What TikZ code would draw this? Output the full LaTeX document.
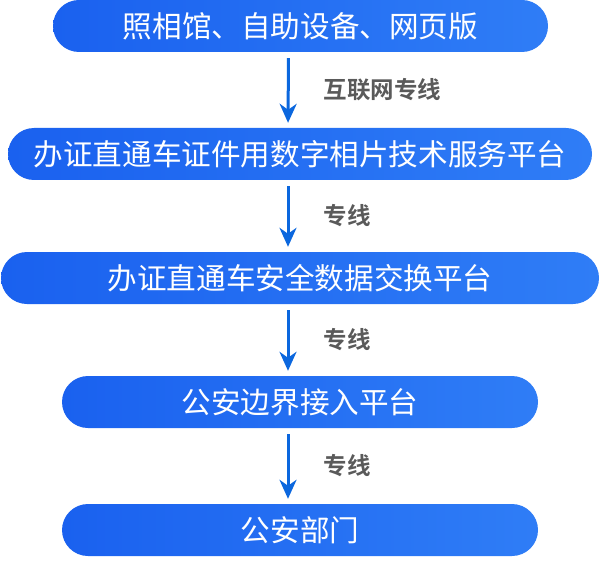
\documentclass[tikz,border=0pt]{standalone}
\usepackage{fontspec}
\setmainfont{Noto Sans CJK SC}[BoldFont={Noto Sans CJK SC Bold}]
\usepackage{tikz}
\usetikzlibrary{calc,arrows.meta,shapes,positioning}
\definecolor{boxleft}{HTML}{1A61EF}
\definecolor{boxright}{HTML}{2F7DF6}
\definecolor{linkblue}{HTML}{0B67DE}
\definecolor{labelgray}{HTML}{5A5A5A}
\tikzset{
    platform/.style={
    rectangle,rounded corners=26pt,left color=boxleft,right color=boxright,
    draw=none,minimum height=52pt,text=white,inner sep=0pt,
    font=\fontsize{29.6}{34}\selectfont
    },
    link/.style={
    draw=linkblue,line width=3pt,-{Stealth[length=19pt,width=17pt,inset=6pt]},
    shorten <=6pt,shorten >=5pt
    },
    linklabel/.style={
    anchor=west,inner sep=0pt,text=labelgray,
    font=\fontsize{23.5}{28}\selectfont\bfseries
    },
}

\begin{document}
\begin{tikzpicture}[x=1pt, y=-1pt]
   \useasboundingbox (0,0) rectangle (601,561);
   \node[platform,minimum width=495pt] (src) at (300.5,26) {照相馆、自助设备、网页版};
   \node[platform,minimum width=584pt] (photo) at (300,154) {办证直通车证件用数字相片技术服务平台};
   \node[platform,minimum width=598pt] (xchg) at (300,278) {办证直通车安全数据交换平台};
   \node[platform,minimum width=476pt] (border) at (300,402) {公安边界接入平台};
   \node[platform,minimum width=476pt] (dept) at (300,530) {公安部门};

  \path
    ([xshift=-12pt]src.south) edge[link] node[linklabel,xshift=34pt] {互联网专线} ([xshift=-12pt]photo.north)
    ([xshift=-12pt]photo.south) edge[link] node[linklabel,xshift=34pt] {专线} ([xshift=-12pt]xchg.north)
    ([xshift=-12pt]xchg.south) edge[link] node[linklabel,xshift=34pt] {专线} ([xshift=-12pt]border.north)
    ([xshift=-12pt]border.south) edge[link] node[linklabel,xshift=34pt] {专线} ([xshift=-12pt]dept.north);
\end{tikzpicture}
\end{document}
